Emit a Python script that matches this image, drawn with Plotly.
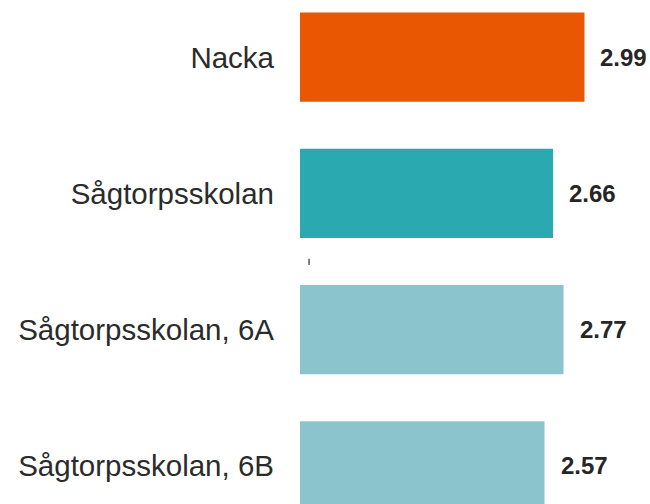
import plotly.graph_objects as go

categories = ["Nacka", "Sågtorpsskolan", "Sågtorpsskolan, 6A", "Sågtorpsskolan, 6B"]
values = [2.99, 2.66, 2.77, 2.57]
value_labels = ["2.99", "2.66", "2.77", "2.57"]
bar_colors = ["#E95703", "#2AA9B0", "#8BC4CC", "#8BC4CC"]

FONT = "'Liberation Sans', Arial, sans-serif"

fig = go.Figure()
fig.add_trace(go.Bar(
    y=categories,
    x=values,
    orientation="h",
    marker=dict(color=bar_colors, line=dict(width=0)),
    hoverinfo="skip",
    cliponaxis=True,
))

for cat, val, lab in zip(categories, values, value_labels):
    fig.add_annotation(
        x=val, y=cat, xref="x", yref="y",
        text="<b>" + lab + "</b>",
        showarrow=False, xanchor="left", yanchor="middle",
        xshift=14,
        font=dict(family=FONT, size=24, color="#262626"),
    )

# small stray tick mark
fig.add_shape(type="line", xref="x", yref="y",
              x0=0.095, x1=0.095, y0=1.48, y1=1.525,
              line=dict(color="#000000", width=1))

fig.update_layout(
    width=650, height=504,
    margin=dict(l=300, r=17, t=0, b=0),
    paper_bgcolor="white", plot_bgcolor="white",
    bargap=0.345,
    showlegend=False,
    font=dict(family=FONT),
)
fig.update_xaxes(range=[0, 3.5], visible=False, showgrid=False, zeroline=False)
fig.update_yaxes(
    range=[3.28, -0.42],
    showgrid=False, zeroline=False, showline=False,
    ticks="", ticklabelstandoff=25,
    tickfont=dict(family=FONT, size=29.5, color="#2b2b2b"),
)

fig.write_html("out.html",
               config={"displayModeBar": False, "staticPlot": True},
               post_script="document.body.style.margin='0';document.body.style.overflow='hidden';")
